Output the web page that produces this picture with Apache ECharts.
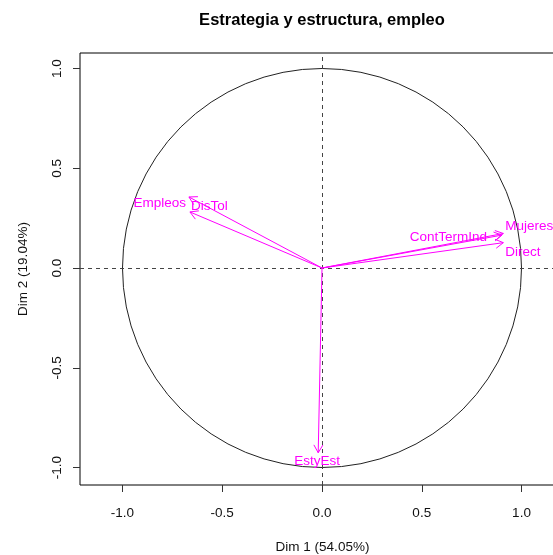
<!DOCTYPE html>
<html>
<head>
<meta charset="utf-8">
<script src="https://cdn.jsdelivr.net/npm/echarts@6/dist/echarts.min.js"></script>
<style>
  html, body { margin: 0; padding: 0; background: #fff; }
  #chart { width: 553px; height: 555px; }
</style>
</head>
<body>
<div id="chart"></div>
<script>
// Variable coordinates on the first two principal dimensions
const varNames = ['Mujeres', 'ContTermInd', 'Direct', 'Empleos', 'DisTol', 'EstyEst'];
const dim1 = [0.909, 0.902, 0.909, -0.662, -0.667, -0.019];
const dim2 = [0.173, 0.165, 0.127, 0.281, 0.356, -0.926];

// Axis ticks and titles
const tickValues = [-1.0, -0.5, 0.0, 0.5, 1.0];
const chartTitle = 'Estrategia y estructura, empleo';
const xTitle = 'Dim 1 (54.05%)';
const yTitle = 'Dim 2 (19.04%)';

// Correlation circle: centre and radius
const circleData = [[0, 0, 1]];

// Where each variable's name sits relative to its arrow tip (pixels)
const labelPlacement = {
  Mujeres:     { dx: 2,   dy: -7.5, align: 'left' },
  ContTermInd: { dx: -15, dy: 2.2,  align: 'right' },
  Direct:      { dx: 2,   dy: 9.5,  align: 'left' },
  Empleos:     { dx: -4,  dy: -9,   align: 'right' },
  DisTol:      { dx: 2,   dy: 9,    align: 'left' },
  EstyEst:     { dx: -1,  dy: 8.3,  align: 'center' }
};

const FONT = '"Liberation Sans", Arial, Helvetica, sans-serif';
const MAGENTA = '#FF00FF';

const arrowData = varNames.map((n, i) => [dim1[i], dim2[i]]);

const chart = echarts.init(document.getElementById('chart'), null, { renderer: 'canvas' });

const axisCommon = {
  type: 'value',
  axisLine: { show: false, onZero: false },
  splitLine: { show: false },
  axisTick: {
    show: true, length: 7, inside: false, customValues: tickValues,
    lineStyle: { color: '#333', width: 1 }
  },
  nameLocation: 'middle',
  nameTextStyle: { fontFamily: FONT, fontSize: 13.5, color: '#111' }
};

chart.setOption({
  animation: false,
  backgroundColor: '#fff',
  grid: {
    left: 80, top: 53, width: 485, height: 432,
    outerBoundsMode: 'none', containLabel: false,
    show: true, borderColor: '#000', borderWidth: 1, backgroundColor: 'transparent'
  },
  graphic: [{
    type: 'text', x: 322, y: 20.5,
    style: { text: chartTitle, font: 'bold 16.5px ' + FONT, fill: '#000', align: 'center', verticalAlign: 'middle' }
  }],
  xAxis: Object.assign({}, axisCommon, {
    min: -1.2130, max: 1.2180,
    name: xTitle, nameGap: 55,
    axisLabel: {
      customValues: tickValues, margin: 21,
      formatter: v => v.toFixed(1),
      fontFamily: FONT, fontSize: 13.5, color: '#111'
    }
  }),
  yAxis: Object.assign({}, axisCommon, {
    min: -1.0877, max: 1.0777,
    name: yTitle, nameGap: 50, nameRotate: 90,
    axisLabel: {
      customValues: tickValues, margin: 16, rotate: 90,
      formatter: v => v.toFixed(1),
      fontFamily: FONT, fontSize: 13.5, color: '#111'
    }
  }),
  series: [
    {
      type: 'custom',
      data: circleData,
      encode: { x: 0, y: 1 },
      silent: true,
      renderItem: function (params, api) {
        const c = api.coord([api.value(0), api.value(1)]);
        const r = api.size([api.value(2), api.value(2)])[0];
        return {
          type: 'circle',
          shape: { cx: c[0], cy: c[1], r: r },
          style: { fill: null, stroke: '#222', lineWidth: 1 }
        };
      },
      markLine: {
        silent: true, symbol: 'none', label: { show: false },
        lineStyle: { type: [4, 4], color: '#444', width: 1 },
        data: [{ xAxis: 0 }, { yAxis: 0 }]
      },
      z: 2
    },
    {
      type: 'custom',
      data: arrowData,
      encode: { x: 0, y: 1 },
      silent: true,
      z: 5,
      renderItem: function (params, api) {
        const o = api.coord([0, 0]);
        const p = api.coord([api.value(0), api.value(1)]);
        const ang = Math.atan2(p[1] - o[1], p[0] - o[0]);
        const L = 9, a = Math.PI / 6;
        const b1 = [p[0] - L * Math.cos(ang - a), p[1] - L * Math.sin(ang - a)];
        const b2 = [p[0] - L * Math.cos(ang + a), p[1] - L * Math.sin(ang + a)];
        const name = varNames[params.dataIndex];
        const lp = labelPlacement[name];
        return {
          type: 'group',
          children: [
            { type: 'line', shape: { x1: o[0], y1: o[1], x2: p[0], y2: p[1] }, style: { stroke: MAGENTA, lineWidth: 1 } },
            { type: 'polyline', shape: { points: [b1, p, b2] }, style: { stroke: MAGENTA, fill: null, lineWidth: 1 } },
            {
              type: 'text', x: p[0] + lp.dx, y: p[1] + lp.dy,
              style: { text: name, fill: MAGENTA, font: '13.5px ' + FONT, align: lp.align, verticalAlign: 'middle' }
            }
          ]
        };
      }
    }
  ]
});
</script>
</body>
</html>
